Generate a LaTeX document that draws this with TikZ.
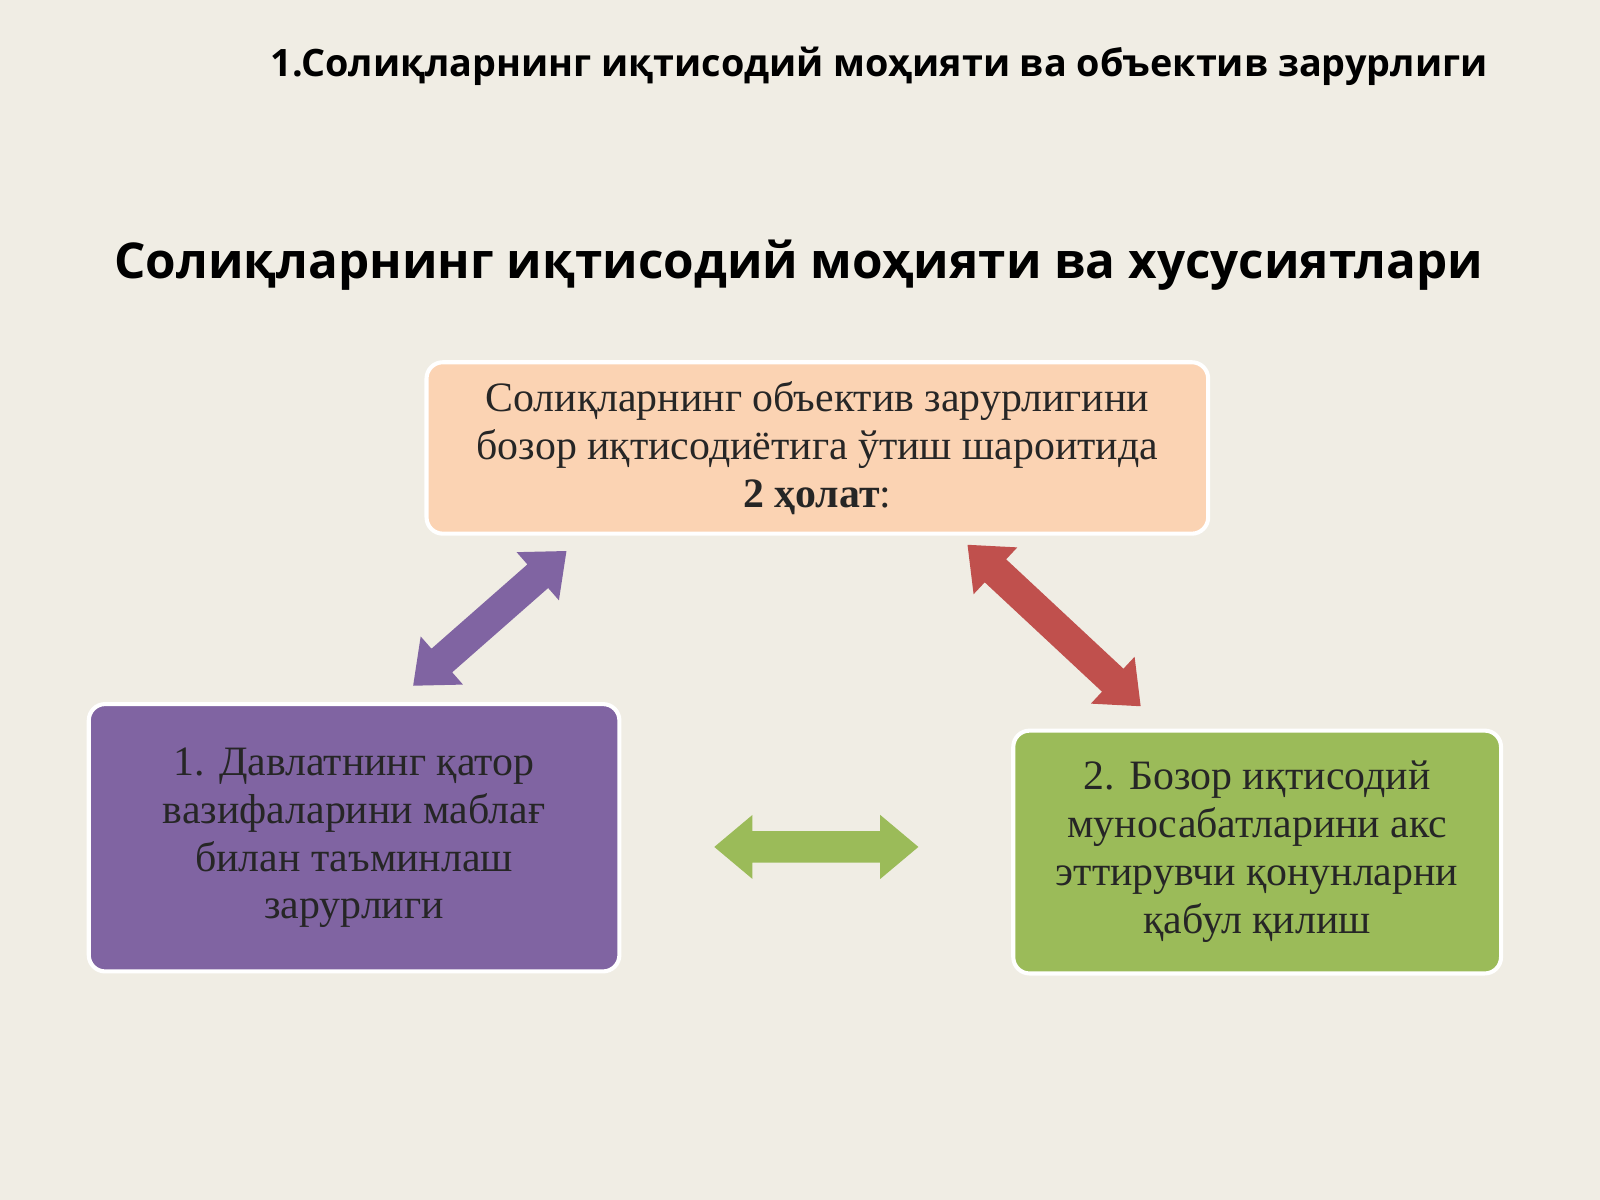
\documentclass[tikz,border=0pt]{standalone}
\usepackage{fontspec}
\setmainfont{Liberation Serif}
\newfontfamily\osans{Open Sans}
\usetikzlibrary{shapes.arrows,shadows}
\definecolor{bg}{HTML}{F0EDE4}
\definecolor{peach}{HTML}{FBD3B3}
\definecolor{purp}{HTML}{8064A2}
\definecolor{grn}{HTML}{9BBB59}
\definecolor{redd}{HTML}{C0504D}
\begin{document}
\begin{tikzpicture}[x=0.5pt,y=-0.5pt,
  box/.style={draw=white,line width=2pt,rounded corners=8pt,align=center,inner sep=0pt,
    font=\fontsize{20.5}{23.5}\selectfont,text=black!85,drop shadow={shadow xshift=0pt,shadow yshift=0pt,opacity=0.25}},
  arr/.style={double arrow,inner xsep=0pt,inner ysep=7.5pt,double arrow head extend=8pt,double arrow tip angle=80,anchor=center}]
\fill[bg] (0,0) rectangle (1568,1176);
\useasboundingbox (0,0) rectangle (1568,1176);
\node[anchor=east,font=\osans\bfseries\fontsize{18.5}{22}\selectfont] (t1) at (1465,65) {1.Солиқларнинг иқтисодий моҳияти ва объектив зарурлиги};
\node[font=\osans\bfseries\fontsize{24.2}{30}\selectfont] (t2) at (783,260) {Солиқларнинг иқтисодий моҳияти ва хусусиятлари};
\node[box,fill=peach,minimum width=383pt,minimum height=84pt] (top) at (801,439)
 {Солиқларнинг объектив зарурлигини\\бозор иқтисодиётига ўтиш шароитида\\\textbf{2 ҳолат}:};
\node[box,fill=purp,minimum width=260pt,minimum height=131pt] (left) at (347,821)
 {1. Давлатнинг қатор\\вазифаларини маблағ\\билан таъминлаш\\зарурлиги};
\node[box,fill=grn,minimum width=239pt,minimum height=119pt] (right) at (1232,835)
 {2. Бозор иқтисодий\\муносабатларини акс\\эттирувчи қонунларни\\қабул қилиш};
\node[arr,fill=purp,minimum height=100pt,rotate=41.3] (a1) at (480,606) {};
\node[arr,fill=redd,minimum height=116pt,rotate=-43] (a2) at (1033,613) {};
\node[arr,fill=grn,minimum height=100pt] (a3) at (800,830) {};
\end{tikzpicture}
\end{document}
